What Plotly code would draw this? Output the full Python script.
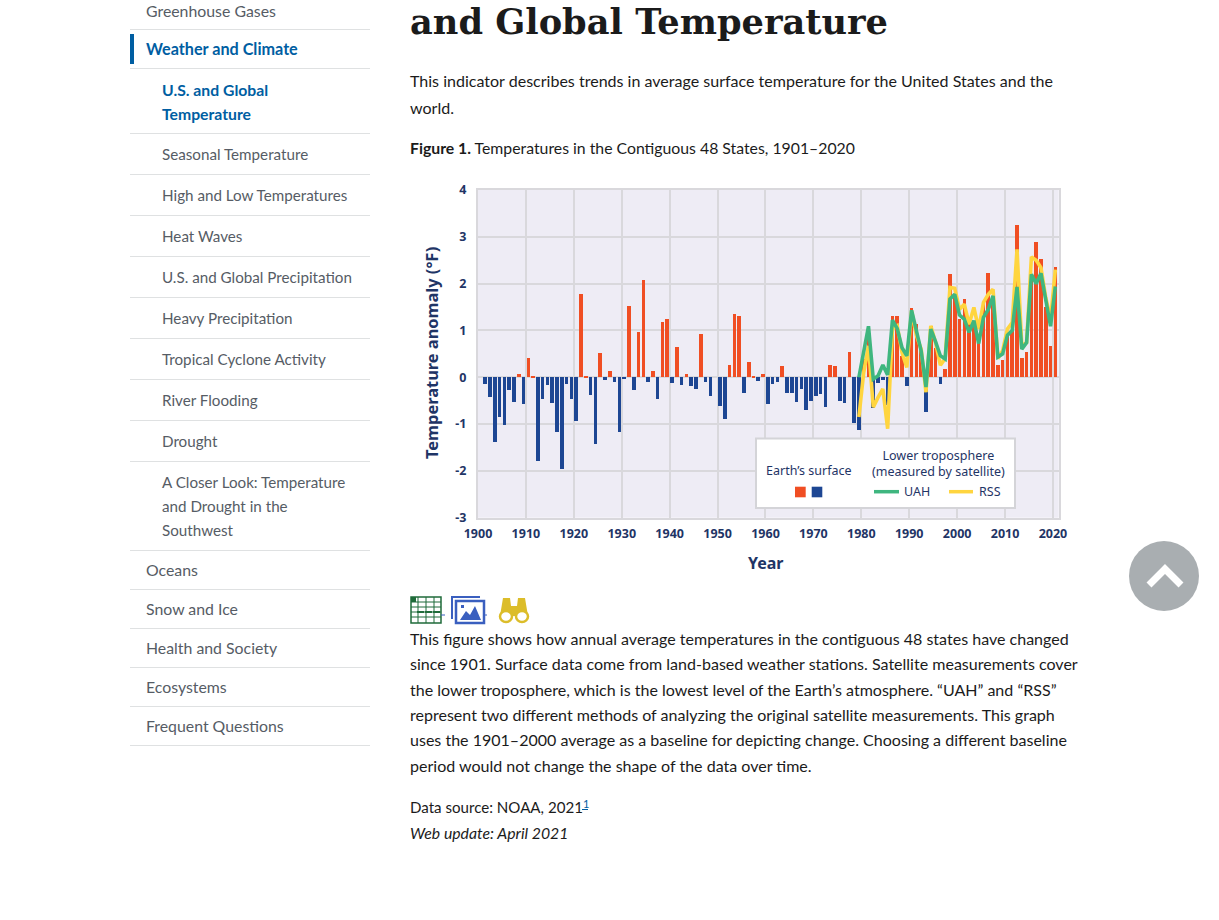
import plotly.graph_objects as go

W, H = 1219, 920

# ---------- chart data ----------
surface_years = list(range(1901, 2021))
surface_values = [
    -0.14, -0.42, -1.39, -0.85, -1.02, -0.28, -0.53, 0.07, -0.58, 0.41,
    0.02, -1.78, -0.46, -0.17, -0.56, -1.16, -1.95, -0.14, -0.46, -0.94,
    1.78, 0.02, -0.37, -1.42, 0.51, -0.06, 0.14, -0.10, -1.16, -0.04,
    1.52, -0.28, 0.97, 2.08, -0.11, 0.14, -0.46, 1.17, 1.24, -0.13,
    0.65, -0.17, 0.06, -0.18, -0.26, 0.93, -0.10, -0.40, 0.0, -0.62,
    -0.89, 0.26, 1.35, 1.31, -0.33, 0.33, 0.02, -0.08, 0.07, -0.57,
    -0.15, -0.11, 0.24, -0.34, -0.33, -0.52, -0.26, -0.70, -0.51, -0.40,
    -0.35, -0.64, 0.27, 0.24, -0.51, -0.55, 0.53, -0.97, -1.13, 0.38,
    1.10, -0.66, -0.13, -0.05, -0.60, 1.30, 1.31, 0.45, -0.18, 1.49,
    1.13, 0.60, -0.75, 1.10, 0.63, -0.14, 0.18, 2.20, 1.77, 1.25,
    1.67, 1.25, 1.15, 0.75, 1.60, 2.23, 1.72, 0.27, 0.37, 0.90,
    1.00, 3.26, 0.41, 0.53, 2.20, 2.89, 2.52, 1.50, 0.66, 2.35,
]
satellite_years = list(range(1979, 2021))
uah_values = [
    0.0, 0.55, 1.09, -0.04, 0.03, 0.26, 0.05, 1.22, 1.04, 0.63, 0.46,
    1.43, 0.96, 0.56, -0.21, 1.03, 0.76, 0.46, 0.39, 1.67, 1.77,
    1.33, 1.24, 0.96, 1.21, 0.72, 1.28, 1.45, 1.74, 0.43, 0.50,
    0.90, 1.00, 1.93, 0.60, 0.74, 2.20, 2.00, 2.22, 1.63, 1.09, 1.94,
]
rss_values = [
    -0.85, 0.10, 0.67, -0.64, -0.43, -0.25, -1.10, 1.03, 1.10, 0.53, 0.21,
    1.42, 0.89, 0.60, -0.32, 1.10, 0.74, 0.26, 0.40, 1.92, 1.90,
    1.45, 1.56, 1.13, 1.49, 1.03, 1.60, 1.77, 1.88, 0.40, 0.57,
    1.03, 1.17, 2.73, 0.67, 0.74, 2.57, 2.50, 2.34, 1.70, 1.24, 2.30,
]
x_ticks = [1900, 1910, 1920, 1930, 1940, 1950, 1960, 1970, 1980, 1990, 2000, 2010, 2020]
y_ticks = [-3, -2, -1, 0, 1, 2, 3, 4]

# ---------- page text ----------
sidebar_top = ["Greenhouse Gases", "Weather and Climate"]
sidebar_active = ["U.S. and Global", "Temperature"]
sidebar_sub = ["Seasonal Temperature", "High and Low Temperatures",
               "Heat Waves", "U.S. and Global Precipitation", "Heavy Precipitation",
               "Tropical Cyclone Activity", "River Flooding", "Drought",
               "A Closer Look: Temperature", "and Drought in the", "Southwest"]
sidebar_bottom = ["Oceans", "Snow and Ice", "Health and Society", "Ecosystems", "Frequent Questions"]
heading = "and Global Temperature"
intro = ["This indicator describes trends in average surface temperature for the United States and the", "world."]
caption = "<b>Figure 1.</b> Temperatures in the Contiguous 48 States, 1901–2020"
body = ["This figure shows how annual average temperatures in the contiguous 48 states have changed",
        "since 1901. Surface data come from land-based weather stations. Satellite measurements cover",
        "the lower troposphere, which is the lowest level of the Earth’s atmosphere. “UAH” and “RSS”",
        "represent two different methods of analyzing the original satellite measurements. This graph",
        "uses the 1901–2000 average as a baseline for depicting change. Choosing a different baseline",
        "period would not change the shape of the data over time."]

# ---------- styling ----------
FONT = "Lato"
NAVY = "#1f3566"
RED = "#f04e23"
BLUE = "#1d4693"
GREEN = "#3fb67f"
YELLOW = "#ffd53f"
GRID = "#d9d8dc"
TEXT = "#1b1b1b"
GREY = "#565c65"
LINK = "#005ea2"
RULE = "#dfe1e2"
BODY = 16.05
SUB = 15.2
TOP = 15.85


def px(x):
    return x / W


def py(y):
    return 1 - y / H


annotations = []
shapes = []


def label(x, y, text, size=BODY, color=TEXT, anchor="left", font=FONT, angle=0):
    annotations.append(dict(x=px(x), y=py(y), xref="paper", yref="paper", text=text, showarrow=False,
                            xanchor=anchor, yanchor="middle", align=anchor,
                            textangle=angle, borderpad=0, borderwidth=0,
                            font=dict(family=font, size=size, color=color)))


def rect(x0, y0, x1, y1, fill=None, line=None, lw=0):
    shapes.append(dict(type="rect", xref="paper", yref="paper", x0=px(x0), x1=px(x1), y0=py(y0), y1=py(y1),
                       fillcolor=fill or "rgba(0,0,0,0)", line=dict(color=line or "rgba(0,0,0,0)", width=lw)))


def seg(x0, y0, x1, y1, color, lw=1):
    shapes.append(dict(type="line", xref="paper", yref="paper", x0=px(x0), x1=px(x1), y0=py(y0), y1=py(y1),
                       line=dict(color=color, width=lw)))


def path(points, fill=None, line=None, lw=0, close=True):
    d = "M " + " L ".join(f"{px(a):.5f},{py(b):.5f}" for a, b in points) + (" Z" if close else "")
    shapes.append(dict(type="path", xref="paper", yref="paper", path=d,
                       fillcolor=fill or "rgba(0,0,0,0)", line=dict(color=line or "rgba(0,0,0,0)", width=lw)))


# sidebar
for y in [29, 68, 133, 174, 215, 256, 297, 338, 379, 420, 461, 550, 589, 628, 667, 706, 745]:
    seg(130, y + 0.5, 370, y + 0.5, RULE, 1)
rect(130, 34, 134, 64, fill=LINK)
label(146, 10, sidebar_top[0], size=TOP, color=GREY)
label(146, 49, "<b>" + sidebar_top[1] + "</b>", size=16.2, color=LINK)
for t, y in zip(sidebar_active, [89, 113]):
    label(162, y, "<b>" + t + "</b>", size=15.75, color=LINK)
for t, y in zip(sidebar_sub, [154, 195, 236, 277, 318, 359, 400, 441, 482, 506, 530]):
    label(162, y, t, size=SUB, color=GREY)
for t, y in zip(sidebar_bottom, [569.5, 608.5, 647.5, 686.5, 725.5]):
    label(146, y, t, size=TOP, color=GREY)

# main text
label(410, 22, "<b>" + heading + "</b>", size=35.2, font="DejaVu Serif")
for t, y in zip(intro, [81, 107]):
    label(410, y, t)
label(410, 148, caption, size=15.8)
for t, y in zip(body, [638.5, 663.5, 689.5, 714.5, 739.5, 765.5]):
    label(410, y, t)
label(410, 806.5, "Data source: NOAA, 2021", size=15.1)
label(583, 803, "1", size=11, color=LINK)
seg(582, 809.5, 588, 809.5, LINK, 1)
label(410, 832.5, "<i>Web update: April 2021</i>", size=15.8)

# axis titles
label(432, 353, "<b>Temperature anomaly (°F)</b>", size=16.4, color=NAVY, anchor="center", angle=-90, font="Noto Sans")
label(766, 563, "<b>Year</b>", size=16, color=NAVY, anchor="center", font="Noto Sans")

# legend
rect(756, 438.5, 1015, 508, fill="white", line="#d4d4d8", lw=2)
label(809, 470, "Earth’s surface", size=12.5, color=NAVY, anchor="center", font="Noto Sans")
label(938.5, 463.3, "Lower troposphere<br>(measured by satellite)", size=12.5, color=NAVY, anchor="center", font="Noto Sans")
rect(795, 486.7, 805.7, 497.3, fill=RED)
rect(811.7, 486.7, 822.3, 497.3, fill=BLUE)
seg(874, 491.7, 899, 491.7, GREEN, 3.5)
label(904, 491.5, "UAH", size=12.5, color=NAVY, font="Noto Sans")
seg(949, 491.7, 973, 491.7, YELLOW, 3.5)
label(979, 491.5, "RSS", size=12.5, color=NAVY, font="Noto Sans")

# table icon
rect(411, 597, 441, 623, fill="white", line="#1f6b3a", lw=1.5)
rect(411, 597, 416, 602, fill="#1f6b3a")
for y in [602, 607, 612, 617]:
    seg(411, y, 441, y, "#1f6b3a", 1)
for x in [418, 426, 434]:
    seg(x, 597, x, 623, "#1f6b3a", 1)
for a in [417, 425, 433]:
    seg(a, 612, a + 7, 612, "#1f6b3a", 2)
seg(441, 615, 445, 615, "#3a5fbf", 1)
# image icon
path([(452, 619), (452, 597), (480, 597)], line="#3a5fbf", lw=2, close=False)
rect(456, 601, 484, 623, fill="white", line="#3a5fbf", lw=2.5)
path([(460, 620), (466, 611), (470, 615), (475, 606), (481, 620)], fill="#3a5fbf")
path([(461, 605), (464, 605), (464, 608), (461, 608)], fill="#3a5fbf")
seg(484, 615, 487, 615, "#3a5fbf", 1)
# binoculars icon
path([(503, 598), (510, 598), (511, 606), (517, 606), (518, 598), (525, 598), (528, 616), (500, 616)], fill="#dcbd2a")
shapes.append(dict(type="circle", xref="paper", yref="paper", x0=px(500), x1=px(512), y0=py(622), y1=py(611),
                   fillcolor="white", line=dict(color="#dcbd2a", width=2.5)))
shapes.append(dict(type="circle", xref="paper", yref="paper", x0=px(516), x1=px(528), y0=py(622), y1=py(611),
                   fillcolor="white", line=dict(color="#dcbd2a", width=2.5)))

# back to top button
shapes.append(dict(type="circle", xref="paper", yref="paper", x0=px(1129), x1=px(1199), y0=py(611), y1=py(541),
                   fillcolor="#a9aeb1", line=dict(width=0)))
path([(1149, 585), (1165, 569), (1181, 585)], line="white", lw=7, close=False)

# ---------- figure ----------
bar_x = [y + 0.5 for y in surface_years]
line_x = [y + 0.5 for y in satellite_years]
bar_colors = [RED if v >= 0 else BLUE for v in surface_values]

fig = go.Figure()
fig.add_trace(go.Bar(x=bar_x, y=surface_values, width=0.75, marker=dict(color=bar_colors, line=dict(width=0)),
                     name="Earth’s surface", showlegend=False))
fig.add_trace(go.Scatter(x=line_x, y=rss_values, mode="lines", name="RSS", showlegend=False,
                         line=dict(color=YELLOW, width=3.6)))
fig.add_trace(go.Scatter(x=line_x, y=uah_values, mode="lines", name="UAH", showlegend=False,
                         line=dict(color=GREEN, width=3.6)))

tick_font = dict(family="Noto Sans", size=12.5, color=NAVY, weight="bold")
fig.update_layout(
    width=W, height=H, autosize=False, margin=dict(l=0, r=0, t=0, b=0, autoexpand=False),
    paper_bgcolor="white", plot_bgcolor="#eeecf5", bargap=0,
    xaxis=dict(domain=[px(478), px(1058.7)], range=[1900, 2021.2], tickmode="array", tickvals=x_ticks,
               ticktext=[str(t) for t in x_ticks], showgrid=True, gridcolor=GRID, gridwidth=2, zeroline=False,
               showline=True, linecolor=GRID, linewidth=2, mirror=True, ticks="", tickfont=tick_font,
               anchor="y", ticklabelstandoff=3),
    yaxis=dict(domain=[py(517.7), py(190)], range=[-3, 4], tickmode="array", tickvals=y_ticks,
               ticktext=[str(t) for t in y_ticks], showgrid=True, gridcolor=GRID, gridwidth=2, zeroline=False,
               showline=True, linecolor=GRID, linewidth=2, mirror=True, ticks="", tickfont=tick_font,
               anchor="x", ticklabelstandoff=7),
    annotations=annotations, shapes=shapes, hovermode=False,
)
fig.write_html("out.html", config=dict(displayModeBar=False),
               post_script="document.body.style.margin='0';document.body.style.overflow='hidden';")
